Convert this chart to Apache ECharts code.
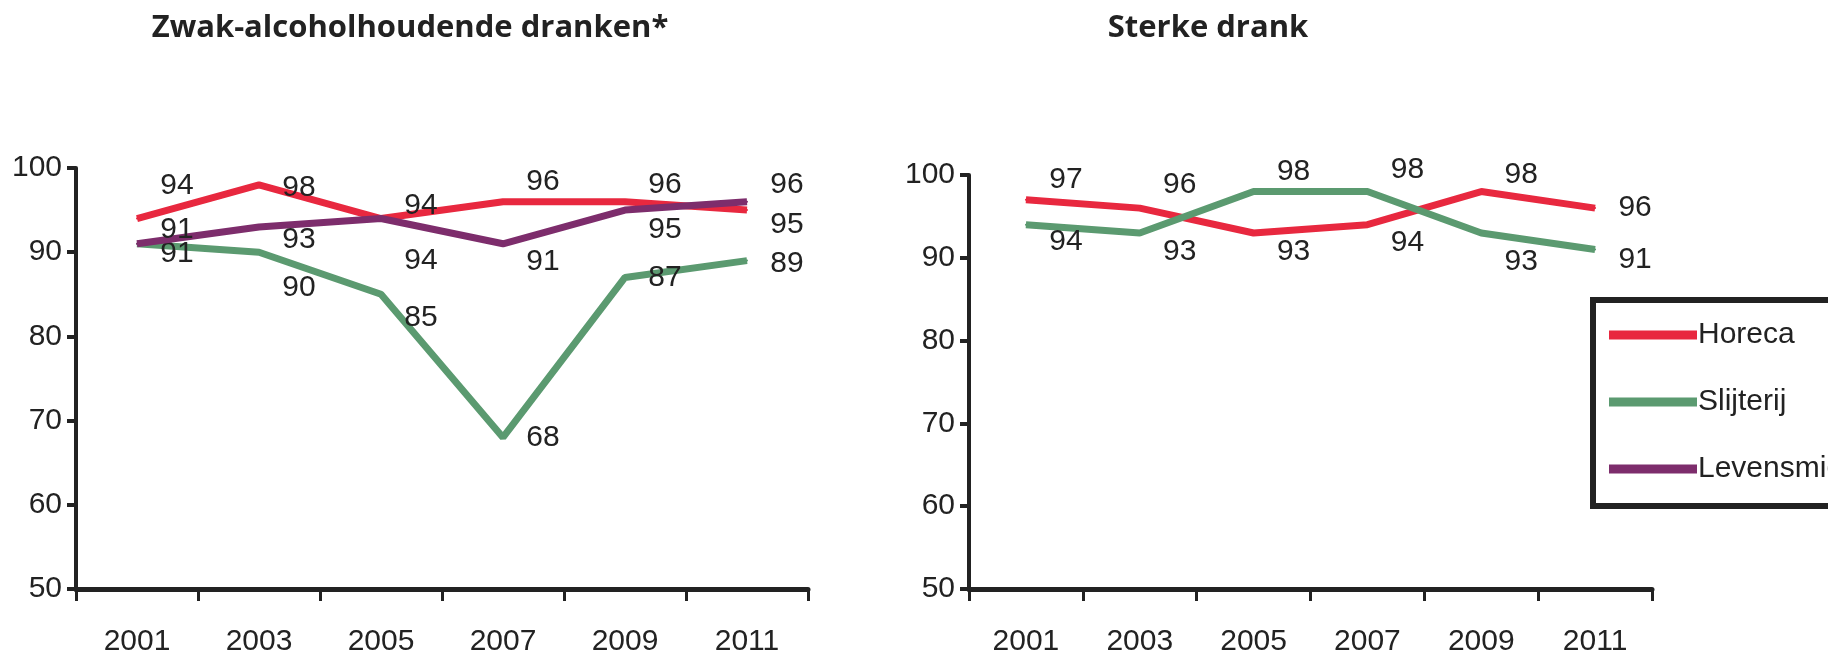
<!DOCTYPE html>
<html lang="nl">

<head>
  <meta charset="UTF-8">
  <title>Naleving leeftijdsgrens</title>
  <script src="https://cdn.jsdelivr.net/npm/echarts@6/dist/echarts.min.js"></script>
  <style>
    html, body { margin: 0; padding: 0; background: #fff; }
    #chart { width: 1828px; height: 657px; }
  </style>
</head>

<body>
  <div id="chart"></div>

  <script>
    // jaren op de x-as
    const years = ['2001', '2003', '2005', '2007', '2009', '2011']
    const yTicks = [50, 60, 70, 80, 90, 100]

    // Zwak-alcoholhoudende dranken
    const zwakHoreca = [94, 98, 94, 96, 96, 95]
    const zwakSlijterij = [91, 90, 85, 68, 87, 89]
    const zwakLevensmiddelen = [91, 93, 94, 91, 95, 96]

    // Sterke drank
    const sterkHoreca = [97, 96, 93, 94, 98, 96]
    const sterkSlijterij = [94, 93, 98, 98, 93, 91]

    // verticale verschuiving van de waardelabels (boven/onder de lijn)
    const zwakHorecaShift = [-33, 3, -13, -20, -17, 15]
    const zwakSlijterijShift = [10, 36, 23, 0, 0, 3]
    const zwakLevensShift = [-14, 13, 42, 18, 20, -17]
    const sterkHorecaShift = [-20, -23, 19, 18, -17, 0]
    const sterkSlijterijShift = [17, 19, -20, -22, 29, 10]

    const numFont = "'Liberation Sans Narrow', 'Liberation Sans', Arial, sans-serif"
    const ink = '#222'
    const colors = { Horeca: '#e8283f', Slijterij: '#5b9a70', Levensmiddelen: '#7d2d6c' }
    const dotSize = 2

    function points(values, shifts) {
      // label-positie relatief t.o.v. de linkerbovenhoek van het (kleine) symbool
      return values.map((v, i) => ({
        value: v,
        label: {
          position: [dotSize / 2 + 40, dotSize / 2 + shifts[i]],
          align: 'center',
          verticalAlign: 'middle'
        }
      }))
    }

    function line(name, values, shifts, idx) {
      return {
        name: name,
        type: 'line',
        xAxisIndex: idx,
        yAxisIndex: idx,
        symbol: 'circle',
        symbolSize: dotSize,
        showSymbol: true,
        data: points(values, shifts),
        lineStyle: { width: 7, color: colors[name] },
        itemStyle: { color: colors[name] },
        label: {
          show: true,
          formatter: '{c}',
          fontFamily: numFont,
          fontSize: 30,
          color: ink
        },
        z: name === 'Levensmiddelen' ? 3 : 2
      }
    }

    function xAxis(idx) {
      return {
        type: 'category',
        gridIndex: idx,
        data: years,
        boundaryGap: true,
        axisLine: { lineStyle: { color: ink, width: 5 } },
        axisTick: { show: true, interval: 0, length: 12, lineStyle: { width: 3, color: ink } },
        axisLabel: { margin: 38, fontFamily: numFont, fontSize: 30, color: ink },
        splitLine: { show: false }
      }
    }

    function yAxis(idx) {
      return {
        type: 'value',
        gridIndex: idx,
        min: yTicks[0],
        max: yTicks[yTicks.length - 1],
        interval: 10,
        axisLine: { show: true, lineStyle: { color: ink, width: 4 } },
        axisTick: { show: true, length: 9, lineStyle: { width: 4, color: ink } },
        axisLabel: { margin: 14, fontFamily: numFont, fontSize: 30, color: ink },
        splitLine: { show: false }
      }
    }

    const myChart = echarts.init(document.getElementById('chart'))
    const option = {
      backgroundColor: '#fff',
      animation: false,
      graphic: [
        {
          type: 'text', x: 410, y: 28,
          style: {
            text: 'Zwak-alcoholhoudende dranken*', textAlign: 'center', textVerticalAlign: 'middle',
            fontFamily: "'Open Sans', sans-serif", fontWeight: 700, fontSize: 31, fill: ink
          }
        },
        {
          type: 'text', x: 1208, y: 28,
          style: {
            text: 'Sterke drank', textAlign: 'center', textVerticalAlign: 'middle',
            fontFamily: "'Open Sans', sans-serif", fontWeight: 700, fontSize: 31, fill: ink
          }
        }
      ],
      grid: [
        { left: 76, top: 168, width: 732, height: 421 },
        { left: 969, top: 175, width: 683, height: 415 }
      ],
      xAxis: [xAxis(0), xAxis(1)],
      yAxis: [yAxis(0), yAxis(1)],
      legend: {
        orient: 'vertical',
        left: 1593,
        top: 300,
        data: ['Horeca', 'Slijterij', 'Levensmiddelen'],
        icon: 'rect',
        itemWidth: 88,
        itemHeight: 9,
        itemGap: 33,
        padding: [18, 20, 20, 16],
        borderColor: ink,
        borderWidth: 6,
        textStyle: { fontFamily: numFont, fontSize: 30, color: ink, lineHeight: 34, padding: [0, 0, 0, -4] }
      },
      series: [
        line('Horeca', zwakHoreca, zwakHorecaShift, 0),
        line('Slijterij', zwakSlijterij, zwakSlijterijShift, 0),
        line('Levensmiddelen', zwakLevensmiddelen, zwakLevensShift, 0),
        line('Horeca', sterkHoreca, sterkHorecaShift, 1),
        line('Slijterij', sterkSlijterij, sterkSlijterijShift, 1)
      ]
    }
    myChart.setOption(option)
  </script>
</body>

</html>
